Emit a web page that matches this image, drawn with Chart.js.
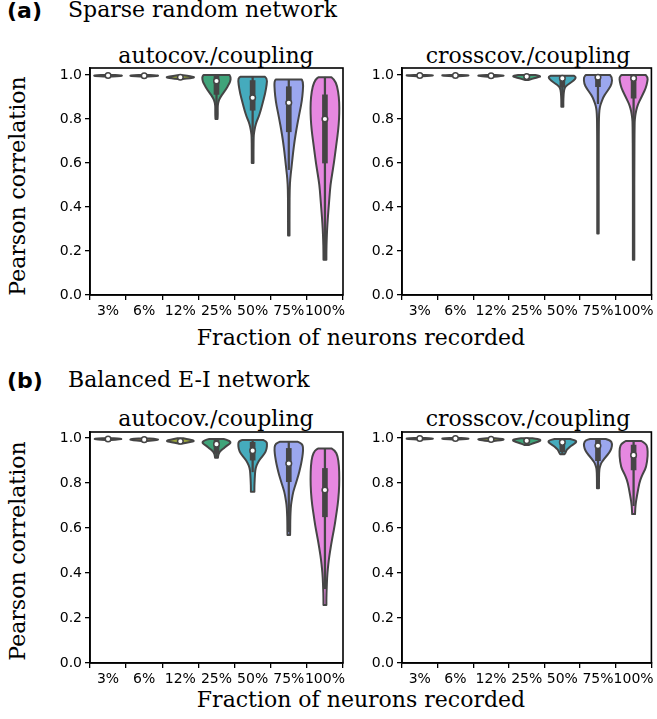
<!DOCTYPE html>
<html>
<head>
<meta charset="utf-8">
<script src="https://cdn.jsdelivr.net/npm/chart.js@4"></script>
<style>
  body { margin: 0; background: #fff; }
  #page { position: relative; width: 657px; height: 719px; overflow: hidden; }
  canvas { position: absolute; }
  .txt { position: absolute; white-space: nowrap; color: #000; font-family: "DejaVu Serif", serif; }
  .tag { position: absolute; font: bold 22px "DejaVu Sans", sans-serif; }
  .sub { width: 300px; text-align: center; font-size: 22px; line-height: 22px; }
  .ylab { width: 300px; height: 26px; line-height: 26px; text-align: center; font-size: 22px; transform: rotate(-90deg); }
  .xlab { width: 400px; text-align: center; font-size: 22px; line-height: 22px; }
</style>
</head>
<body>
<div id="page">
  <div class="tag" style="left:7px; top:-2px;">(a)</div>
  <div class="txt" style="left:68px; top:-1px; font-size:22px; line-height:22px;">Sparse random network</div>
  <div class="txt sub" style="left:66px; top:45px;">autocov./coupling</div>
  <div class="txt sub" style="left:378px; top:45px;">crosscov./coupling</div>
  <div class="txt ylab" style="left:-132px; top:173px;">Pearson correlation</div>
  <div class="txt xlab" style="left:161px; top:327px;">Fraction of neurons recorded</div>

  <div class="tag" style="left:7px; top:368px;">(b)</div>
  <div class="txt" style="left:68px; top:369px; font-size:22px; line-height:22px;">Balanced E-I network</div>
  <div class="txt sub" style="left:66px; top:408px;">autocov./coupling</div>
  <div class="txt sub" style="left:378px; top:408px;">crosscov./coupling</div>
  <div class="txt ylab" style="left:-132px; top:538px;">Pearson correlation</div>
  <div class="txt xlab" style="left:161px; top:689px;">Fraction of neurons recorded</div>

  <canvas id="autoA" width="330" height="295" style="left:20px; top:30px;"></canvas>
  <canvas id="crossA" width="325" height="295" style="left:332px; top:30px;"></canvas>
  <canvas id="autoB" width="330" height="299" style="left:20px; top:394px;"></canvas>
  <canvas id="crossB" width="325" height="299" style="left:332px; top:394px;"></canvas>
</div>

<script>
// categories and ticks
const categories = ["3%", "6%", "12%", "25%", "50%", "75%", "100%"];
const yTicks = [0.0, 0.2, 0.4, 0.6, 0.8, 1.0];
const violinColors = ["#dd8590", "#c49a58", "#9aa53c", "#40a47a", "#45abbd", "#9ba7ee", "#e688e0"];

// (a) sparse random network, autocov./coupling
const autoA_q1 = [0.996, 0.996, 0.987, 0.912, 0.84, 0.742, 0.60];
const autoA_med = [0.998, 0.997, 0.99, 0.973, 0.897, 0.874, 0.80];
const autoA_q3 = [0.999, 0.999, 0.994, 0.995, 0.975, 0.947, 0.91];
const autoA_lo = [0.993, 0.993, 0.982, 0.80, 0.72, 0.57, 0.16];
const autoA_hi = [1.0, 1.0, 0.999, 1.0, 0.992, 0.98, 0.99];
const autoA_shape = [
    [[1.0, 0.5], [0.998, 1], [0.996, 0.9], [0.993, 0.3]],
    [[1.0, 0.4], [0.998, 1], [0.996, 0.9], [0.993, 0.3]],
    [[0.999, 0.2], [0.993, 0.8], [0.99, 1], [0.986, 0.7], [0.982, 0.15]],
    [[1.0, 0.9], [0.99, 1], [0.97, 0.95], [0.955, 0.83], [0.935, 0.65], [0.917, 0.45], [0.9, 0.28], [0.886, 0.17], [0.87, 0.1], [0.85, 0.08], [0.82, 0.09], [0.80, 0.07]],
    [[0.992, 0.85], [0.985, 1], [0.96, 0.98], [0.917, 0.87], [0.87, 0.68], [0.84, 0.56], [0.81, 0.42], [0.79, 0.28], [0.765, 0.17], [0.74, 0.1], [0.72, 0.07], [0.66, 0.06], [0.60, 0.06]],
    [[0.98, 0.9], [0.97, 1], [0.93, 0.98], [0.88, 0.9], [0.84, 0.78], [0.8, 0.66], [0.75, 0.52], [0.70, 0.4], [0.65, 0.3], [0.60, 0.22], [0.57, 0.17], [0.53, 0.1], [0.48, 0.06], [0.4, 0.05], [0.27, 0.05]],
    [[0.99, 0.45], [0.98, 0.65], [0.95, 0.85], [0.9, 0.97], [0.85, 1], [0.8, 0.98], [0.75, 0.92], [0.7, 0.82], [0.65, 0.72], [0.6, 0.62], [0.55, 0.5], [0.5, 0.38], [0.45, 0.32], [0.4, 0.26], [0.35, 0.2], [0.3, 0.15], [0.25, 0.12], [0.2, 0.1], [0.16, 0.1]],
];

// (a) sparse random network, crosscov./coupling
const crossA_q1 = [0.997, 0.997, 0.995, 0.988, 0.945, 0.947, 0.895];
const crossA_med = [0.998, 0.998, 0.997, 0.993, 0.985, 0.99, 0.985];
const crossA_q3 = [0.999, 0.999, 0.999, 0.998, 0.997, 1.0, 1.0];
const crossA_lo = [0.995, 0.995, 0.992, 0.977, 0.867, 0.87, 0.74];
const crossA_hi = [1.0, 1.0, 1.0, 1.0, 0.997, 1.0, 1.0];
const crossA_shape = [
    [[1.0, 0.4], [0.999, 1], [0.997, 0.8], [0.995, 0.2]],
    [[1.0, 0.4], [0.999, 1], [0.997, 0.8], [0.995, 0.2]],
    [[1.0, 0.3], [0.998, 1], [0.995, 0.7], [0.992, 0.2]],
    [[1.0, 0.6], [0.995, 1], [0.99, 0.85], [0.985, 0.5], [0.98, 0.25], [0.977, 0.1]],
    [[0.997, 0.8], [0.99, 1], [0.975, 0.8], [0.962, 0.5], [0.95, 0.25], [0.94, 0.15], [0.92, 0.1], [0.9, 0.08], [0.88, 0.07], [0.856, 0.07]],
    [[1.0, 0.85], [0.99, 1], [0.96, 0.97], [0.94, 0.8], [0.917, 0.55], [0.9, 0.38], [0.87, 0.2], [0.85, 0.12], [0.826, 0.08], [0.78, 0.06], [0.6, 0.05], [0.4, 0.05], [0.28, 0.05]],
    [[1.0, 0.85], [0.99, 1], [0.97, 0.97], [0.94, 0.85], [0.917, 0.68], [0.89, 0.48], [0.87, 0.33], [0.85, 0.22], [0.826, 0.14], [0.8, 0.09], [0.78, 0.07], [0.6, 0.05], [0.4, 0.05], [0.16, 0.05]],
];

// (b) balanced E-I network, autocov./coupling
const autoB_q1 = [0.995, 0.99, 0.982, 0.932, 0.902, 0.806, 0.65];
const autoB_med = [0.996, 0.993, 0.986, 0.973, 0.944, 0.887, 0.769];
const autoB_q3 = [0.998, 0.996, 0.99, 0.991, 0.981, 0.954, 0.865];
const autoB_lo = [0.991, 0.987, 0.976, 0.913, 0.85, 0.584, 0.33];
const autoB_hi = [0.999, 0.998, 0.999, 0.996, 0.991, 0.984, 0.954];
const autoB_shape = [
    [[0.999, 0.4], [0.997, 1], [0.994, 0.8], [0.991, 0.2]],
    [[0.998, 0.4], [0.995, 1], [0.991, 0.9], [0.987, 0.2]],
    [[0.999, 0.2], [0.993, 0.7], [0.987, 1], [0.982, 0.7], [0.976, 0.15]],
    [[0.996, 0.5], [0.99, 0.85], [0.98, 1], [0.972, 0.85], [0.963, 0.65], [0.956, 0.52], [0.945, 0.3], [0.933, 0.17], [0.925, 0.12], [0.913, 0.1]],
    [[0.991, 0.75], [0.985, 0.95], [0.975, 1], [0.95, 0.97], [0.93, 0.82], [0.91, 0.55], [0.89, 0.35], [0.867, 0.2], [0.84, 0.16], [0.8, 0.13], [0.78, 0.12], [0.761, 0.12]],
    [[0.984, 0.6], [0.976, 0.9], [0.96, 1], [0.93, 0.97], [0.9, 0.9], [0.87, 0.8], [0.836, 0.67], [0.8, 0.5], [0.761, 0.3], [0.73, 0.22], [0.702, 0.15], [0.67, 0.12], [0.63, 0.1], [0.6, 0.1], [0.569, 0.09]],
    [[0.954, 0.45], [0.945, 0.7], [0.92, 0.88], [0.88, 0.97], [0.82, 1], [0.76, 0.97], [0.7, 0.88], [0.65, 0.76], [0.613, 0.68], [0.57, 0.55], [0.53, 0.44], [0.495, 0.35], [0.46, 0.27], [0.42, 0.2], [0.38, 0.15], [0.33, 0.12], [0.29, 0.1], [0.258, 0.1]],
];

// (b) balanced E-I network, crosscov./coupling
const crossB_q1 = [0.997, 0.997, 0.992, 0.981, 0.94, 0.9, 0.858];
const crossB_med = [0.998, 0.998, 0.994, 0.988, 0.981, 0.966, 0.924];
const crossB_q3 = [0.999, 0.999, 0.996, 0.994, 0.993, 0.99, 0.969];
const crossB_lo = [0.994, 0.994, 0.987, 0.969, 0.928, 0.777, 0.7];
const crossB_hi = [1.0, 1.0, 0.999, 0.999, 0.996, 0.996, 0.987];
const crossB_shape = [
    [[1.0, 0.4], [0.998, 1], [0.996, 0.8], [0.994, 0.2]],
    [[1.0, 0.4], [0.998, 1], [0.996, 0.8], [0.994, 0.2]],
    [[0.999, 0.3], [0.995, 1], [0.991, 0.7], [0.987, 0.2]],
    [[0.999, 0.4], [0.995, 0.85], [0.99, 1], [0.984, 0.8], [0.977, 0.45], [0.972, 0.25], [0.969, 0.15]],
    [[0.996, 0.55], [0.99, 0.9], [0.984, 1], [0.975, 0.85], [0.965, 0.6], [0.954, 0.4], [0.945, 0.28], [0.935, 0.22], [0.928, 0.15]],
    [[0.996, 0.55], [0.99, 0.88], [0.975, 1], [0.954, 0.95], [0.935, 0.8], [0.917, 0.55], [0.9, 0.35], [0.889, 0.23], [0.87, 0.12], [0.85, 0.08], [0.8, 0.07], [0.777, 0.07]],
    [[0.987, 0.55], [0.975, 0.85], [0.96, 0.97], [0.92, 1], [0.87, 0.88], [0.85, 0.72], [0.828, 0.55], [0.8, 0.4], [0.755, 0.27], [0.73, 0.2], [0.71, 0.15], [0.69, 0.12], [0.662, 0.1]],
];

const GRAY = "#454545";

// draws the violin bodies under the box/median datasets
const violinPlugin = {
    id: "violin",
    beforeDatasetsDraw(chart, args, opts) {
        const { ctx } = chart;
        const x = chart.scales.x;
        const y = chart.scales.y;
        const hw = (x.getPixelForValue(1) - x.getPixelForValue(0)) * 0.4;

        opts.shapes.forEach((shape, i) => {
            const xc = x.getPixelForValue(i);
            const R = shape.map(([v, w]) => [xc + w * hw, y.getPixelForValue(v)]);
            const L = shape.map(([v, w]) => [xc - w * hw, y.getPixelForValue(v)]);
            const n = R.length - 1;

            ctx.save();
            ctx.beginPath();
            ctx.moveTo(L[0][0], L[0][1]);
            ctx.lineTo(R[0][0], R[0][1]);
            for (let k = 1; k < n; k++) {
                const mx = (R[k][0] + R[k + 1][0]) / 2;
                const my = (R[k][1] + R[k + 1][1]) / 2;
                ctx.quadraticCurveTo(R[k][0], R[k][1], mx, my);
            }
            ctx.lineTo(R[n][0], R[n][1]);
            ctx.lineTo(L[n][0], L[n][1]);
            for (let k = n - 1; k > 0; k--) {
                const mx = (L[k][0] + L[k - 1][0]) / 2;
                const my = (L[k][1] + L[k - 1][1]) / 2;
                ctx.quadraticCurveTo(L[k][0], L[k][1], mx, my);
            }
            ctx.lineTo(L[0][0], L[0][1]);
            ctx.closePath();
            ctx.fillStyle = violinColors[i];
            ctx.fill();
            ctx.lineWidth = 2;
            ctx.lineJoin = "round";
            ctx.strokeStyle = GRAY;
            ctx.stroke();
            ctx.restore();
        });
    },
    afterDraw(chart) {
        const { ctx, chartArea: a } = chart;
        ctx.save();
        ctx.strokeStyle = "#000";
        ctx.lineWidth = 1.6;
        ctx.strokeRect(a.left, a.top, a.right - a.left, a.bottom - a.top);
        ctx.restore();
    },
};

function makePanel(id, shapes, q1, med, q3, lo, hi, yMax, padRight) {
    const ctx = document.getElementById(id).getContext("2d");
    return new Chart(ctx, {
        type: "bar",
        data: {
            labels: categories,
            datasets: [
                {
                    type: "line",
                    data: med,
                    showLine: false,
                    pointRadius: 2.8,
                    pointBackgroundColor: "#fff",
                    pointBorderColor: GRAY,
                    pointBorderWidth: 1.5,
                    order: 0,
                },
                {
                    data: q1.map((a, i) => [a, q3[i]]),
                    backgroundColor: GRAY,
                    barThickness: 5,
                    grouped: false,
                    order: 1,
                },
                {
                    data: lo.map((a, i) => [a, hi[i]]),
                    backgroundColor: GRAY,
                    barThickness: 1.6,
                    grouped: false,
                    order: 2,
                },
            ],
        },
        options: {
            responsive: false,
            animation: false,
            layout: { padding: { top: 38, right: padRight, left: 0, bottom: 0 } },
            plugins: {
                legend: { display: false },
                tooltip: { enabled: false },
                violin: { shapes: shapes },
            },
            scales: {
                x: {
                    offset: true,
                    afterFit: (s) => { s.height = 30; },
                    grid: { display: true, drawOnChartArea: false, drawTicks: true, tickLength: 5, color: "#000", lineWidth: 1.3 },
                    border: { display: true, color: "#000", width: 1.6 },
                    ticks: {
                        color: "#000",
                        font: { family: "DejaVu Sans", size: 14 },
                        padding: 3,
                        autoSkip: false,
                        maxRotation: 0,
                        minRotation: 0,
                    },
                },
                y: {
                    min: 0,
                    max: yMax,
                    afterFit: (s) => { s.width = 70; },
                    afterBuildTicks: (s) => { s.ticks = yTicks.map((v) => ({ value: v })); },
                    grid: { display: true, drawOnChartArea: false, drawTicks: true, tickLength: 5, color: "#000", lineWidth: 1.3 },
                    border: { display: true, color: "#000", width: 1.6 },
                    ticks: {
                        color: "#000",
                        font: { family: "DejaVu Sans", size: 14 },
                        padding: 3,
                        callback: (v) => Number(v).toFixed(1),
                    },
                },
            },
        },
        plugins: [violinPlugin],
    });
}

makePanel("autoA", autoA_shape, autoA_q1, autoA_med, autoA_q3, autoA_lo, autoA_hi, 1.032, 7);
makePanel("crossA", crossA_shape, crossA_q1, crossA_med, crossA_q3, crossA_lo, crossA_hi, 1.032, 3);
makePanel("autoB", autoB_shape, autoB_q1, autoB_med, autoB_q3, autoB_lo, autoB_hi, 1.027, 7);
makePanel("crossB", crossB_shape, crossB_q1, crossB_med, crossB_q3, crossB_lo, crossB_hi, 1.027, 3);
</script>
</body>
</html>
